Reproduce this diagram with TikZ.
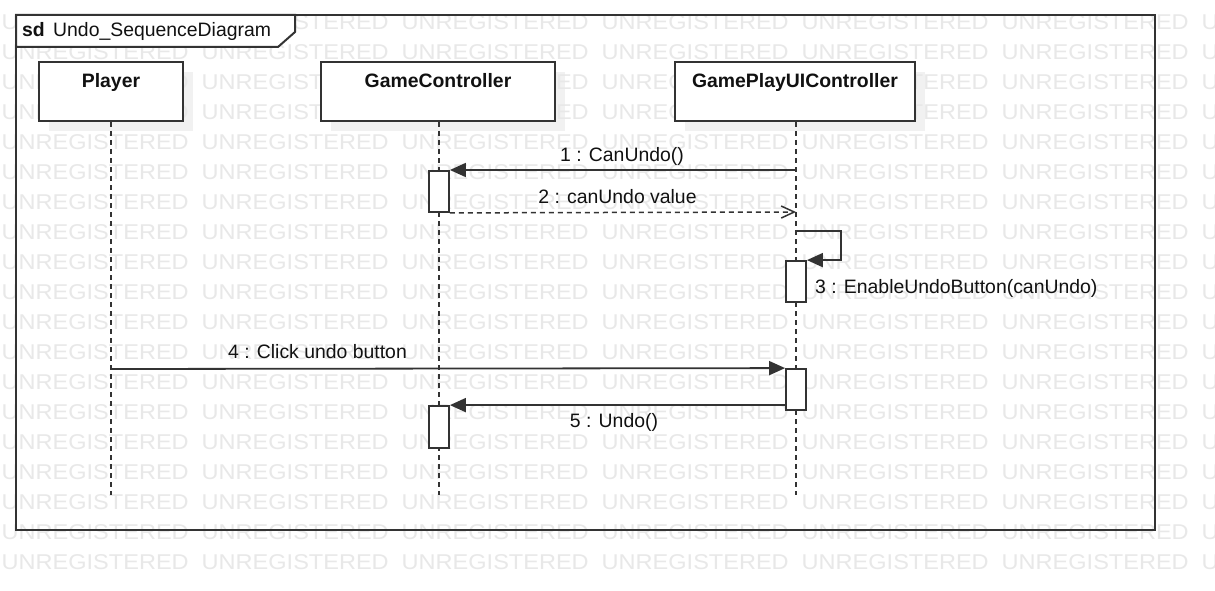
\documentclass[tikz,border=0pt]{standalone}
\usepackage{fontspec}
\setmainfont{Liberation Sans}
\newfontfamily\wmfont[FakeStretch=1.1]{Liberation Sans}
\usetikzlibrary{arrows.meta}
\definecolor{wmcol}{HTML}{E8E8E8}
\definecolor{lncol}{HTML}{333333}
\definecolor{shdcol}{HTML}{F1F1F1}
\definecolor{txtcol}{HTML}{111111}
\begin{document}
\begin{tikzpicture}[x=1pt,y=-1pt,
  wmark/.style={anchor=base west,inner sep=0pt,text=wmcol,font=\wmfont\fontsize{21.4}{21.4}\selectfont},
  lbox/.style={draw=lncol,line width=2pt,fill=white,inner sep=0pt},
  shadowbox/.style={fill=shdcol,draw=none,inner sep=0pt},
  actbox/.style={draw=lncol,line width=1.8pt,fill=white,inner sep=0pt,minimum width=20pt},
  lifeline/.style={draw=lncol,line width=1.4pt,dash pattern=on 5pt off 4pt},
  msg/.style={draw=lncol,line width=1.8pt,-{Triangle[length=16pt,width=14pt]}},
  retmsg/.style={draw=lncol,line width=1.5pt,dash pattern=on 5pt off 4pt,-{Straight Barb[length=13pt,width=12pt]}},
  lbl/.style={anchor=base,inner sep=0pt,text=txtcol,font=\fontsize{19.4}{20}\selectfont},
  blbl/.style={anchor=base,inner sep=0pt,text=txtcol,font=\fontsize{19.4}{20}\selectfont\bfseries}
]
\useasboundingbox (0,0) rectangle (1215,591);
\fill[white] (0,0) rectangle (1215,591);

% shadows
\node[shadowbox,minimum width=144pt,minimum height=59pt] (shp) at (121,101.5) {};
\node[shadowbox,minimum width=234pt,minimum height=59pt] (shg) at (448,101.5) {};
\node[shadowbox,minimum width=240pt,minimum height=59pt] (shu) at (805,101.5) {};

% watermark
\begin{scope}
\clip (0,0) rectangle (1215,591);
\foreach \r in {0,...,18}{
  \foreach \c in {0,...,6}{
    \node[wmark] (wm-\r-\c) at (1.5+200*\c, 29.2+30*\r) {UNREGISTERED};
  }
}
\end{scope}

% frame
\draw[lncol,line width=2.5pt] (16,15) rectangle (1155,530);
\draw[lncol,line width=2pt,fill=white] (16,15) -- (295,15) -- (295,32) -- (278,47) -- (16,47) -- cycle;
\node[blbl,anchor=base west] (sd) at (22,37) {sd};
\node[lbl,anchor=base west] (title) at (53,37) {Undo\_SequenceDiagram};

% lifeline boxes
\node[lbox,minimum width=144pt,minimum height=59pt] (player) at (111,91.5) {};
\node[lbox,minimum width=234pt,minimum height=59pt] (gc) at (438,91.5) {};
\node[lbox,minimum width=240pt,minimum height=59pt] (ui) at (795,91.5) {};
\node[blbl] (playerlbl) at (111,88) {Player};
\node[blbl] (gclbl) at (438,88) {GameController};
\node[blbl] (uilbl) at (795,88) {GamePlayUIController};

% lifelines
\coordinate (pend) at (111,495);
\coordinate (gend) at (439,495);
\coordinate (uend) at (796,495);
\draw[lifeline] (player.south -| pend) -- (pend);
\draw[lifeline] (gc.south -| gend) -- (gend);
\draw[lifeline] (ui.south -| uend) -- (uend);

% activations
\node[actbox,minimum height=41pt] (ga1) at (439,191.5) {};
\node[actbox,minimum height=41pt] (ua1) at (796,281.5) {};
\node[actbox,minimum height=41pt] (ua2) at (796,389.5) {};
\node[actbox,minimum height=42pt] (ga2) at (439,427) {};

% messages
\coordinate (m1s) at (796,170);
\draw[msg] (m1s) -- (ga1.east |- m1s);
\node[lbl] (m1l) at (622,161) {1 : CanUndo()};

\coordinate (m2e) at (796,212);
\draw[retmsg] (ga1.south east) -- (m2e);
\node[lbl] (m2l) at (617.5,203) {2 : canUndo value};

\coordinate (m3s) at (796,231);
\coordinate (m3r) at (841,231);
\draw[msg] (m3s) -- (m3r) |- (ua1.north east);
\node[lbl,anchor=base west] (m3l) at (815,293) {3 : EnableUndoButton(canUndo)};

\coordinate (m4s) at (111,369);
\draw[msg] (m4s) -- (ua2.north west);
\node[lbl] (m4l) at (317.5,358) {4 : Click undo button};

\draw[msg] (ua2.west |- ga2.north) -- (ga2.north east);
\node[lbl] (m5l) at (614,427) {5 : Undo()};
\end{tikzpicture}
\end{document}
